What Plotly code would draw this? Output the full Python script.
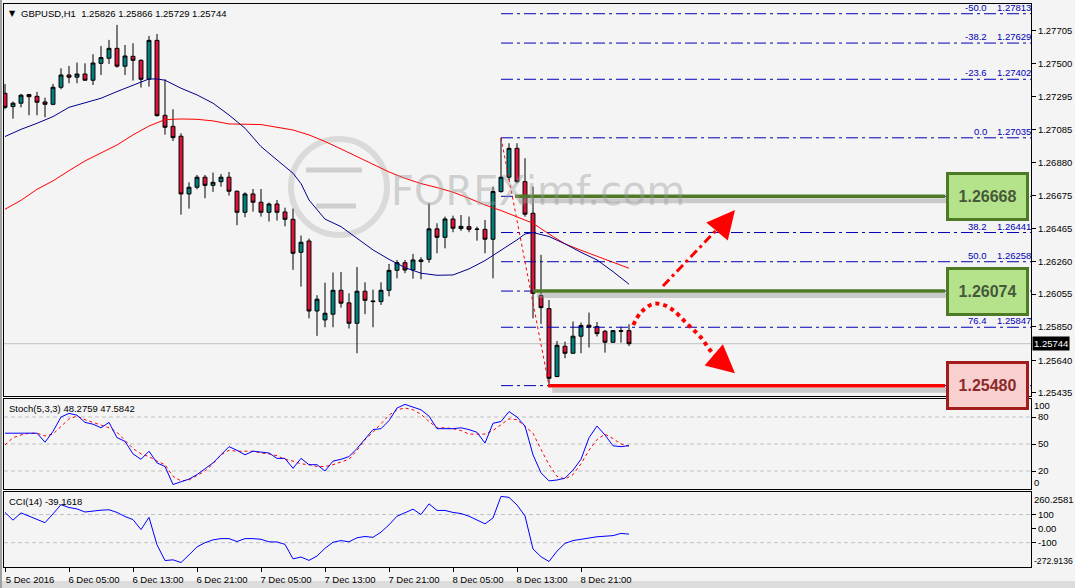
import plotly.graph_objects as go

# ---------------- data ----------------
bar_index = list(range(79))
open_px = [1.27314, 1.27231, 1.27252, 1.27306, 1.27295, 1.27260, 1.27245, 1.27352, 1.27429, 1.27415,
           1.27435, 1.27396, 1.27502, 1.27534, 1.27596, 1.27484, 1.27546, 1.27521, 1.27402, 1.27646,
           1.27176, 1.27107, 1.27045, 1.26683, 1.26725, 1.26788, 1.26737, 1.26760, 1.26788, 1.26700,
           1.26568, 1.26683, 1.26631, 1.26568, 1.26620, 1.26570, 1.26524, 1.26317, 1.26388, 1.25949,
           1.25893, 1.25929, 1.26079, 1.26000, 1.25872, 1.26073, 1.26012, 1.26008, 1.26079, 1.26204,
           1.26252, 1.26206, 1.26269, 1.26273, 1.26464, 1.26411, 1.26526, 1.26466, 1.26478, 1.26463,
           1.26461, 1.26399, 1.26698, 1.26788, 1.26969, 1.26760, 1.26562, 1.26046, 1.25964, 1.25538,
           1.25728, 1.25684, 1.25791, 1.25860, 1.25851, 1.25822, 1.25753, 1.25826, 1.25826]
high_px = [1.27373, 1.27262, 1.27310, 1.27310, 1.27323, 1.27287, 1.27373, 1.27471, 1.27486, 1.27507,
           1.27502, 1.27559, 1.27611, 1.27649, 1.27743, 1.27617, 1.27628, 1.27527, 1.27674, 1.27686,
           1.27402, 1.27214, 1.27063, 1.26756, 1.26802, 1.26802, 1.26817, 1.26808, 1.26821, 1.26704,
           1.26693, 1.26714, 1.26714, 1.26629, 1.26645, 1.26597, 1.26591, 1.26422, 1.26403, 1.26048,
           1.26127, 1.26190, 1.26194, 1.26060, 1.26225, 1.26129, 1.26083, 1.26129, 1.26244, 1.26269,
           1.26269, 1.26307, 1.26286, 1.26625, 1.26499, 1.26541, 1.26547, 1.26551, 1.26541, 1.26478,
           1.26520, 1.26729, 1.27035, 1.27001, 1.27001, 1.26907, 1.26729, 1.26301, 1.26018, 1.25761,
           1.25757, 1.25883, 1.25876, 1.25939, 1.25880, 1.25830, 1.25830, 1.25851, 1.25866]
low_px = [1.27214, 1.27155, 1.27226, 1.27176, 1.27176, 1.27164, 1.27239, 1.27339, 1.27377, 1.27377,
          1.27394, 1.27366, 1.27429, 1.27498, 1.27475, 1.27429, 1.27394, 1.27350, 1.27356, 1.27168,
          1.27055, 1.27015, 1.26553, 1.26591, 1.26712, 1.26656, 1.26696, 1.26729, 1.26673, 1.26487,
          1.26537, 1.26572, 1.26541, 1.26510, 1.26516, 1.26480, 1.26207, 1.26102, 1.25903, 1.25793,
          1.25847, 1.25847, 1.25970, 1.25839, 1.25684, 1.25929, 1.25847, 1.25987, 1.26041, 1.26154,
          1.26186, 1.26152, 1.26148, 1.26252, 1.26311, 1.26342, 1.26443, 1.26451, 1.26443, 1.26390,
          1.26311, 1.26154, 1.26691, 1.26771, 1.26750, 1.26541, 1.25903, 1.25868, 1.25481, 1.25534,
          1.25653, 1.25680, 1.25684, 1.25720, 1.25789, 1.25688, 1.25751, 1.25751, 1.25729]
close_px = [1.27226, 1.27252, 1.27302, 1.27293, 1.27258, 1.27245, 1.27352, 1.27429, 1.27415, 1.27435,
            1.27396, 1.27504, 1.27538, 1.27596, 1.27484, 1.27548, 1.27521, 1.27402, 1.27646, 1.27174,
            1.27101, 1.27036, 1.26683, 1.26725, 1.26788, 1.26737, 1.26756, 1.26788, 1.26700, 1.26568,
            1.26683, 1.26631, 1.26568, 1.26620, 1.26568, 1.26524, 1.26311, 1.26380, 1.25949, 1.26023,
            1.25935, 1.26079, 1.25998, 1.25872, 1.26073, 1.26016, 1.26008, 1.26079, 1.26204, 1.26252,
            1.26206, 1.26269, 1.26259, 1.26464, 1.26411, 1.26526, 1.26468, 1.26480, 1.26461, 1.26461,
            1.26399, 1.26698, 1.26788, 1.26969, 1.26760, 1.26556, 1.26060, 1.25970, 1.25527, 1.25734,
            1.25684, 1.25791, 1.25858, 1.25847, 1.25807, 1.25753, 1.25826, 1.25822, 1.25744]

tick_bars = [0, 8, 16, 24, 32, 40, 48, 56, 64, 72]
tick_labels = ["5 Dec 2016", "6 Dec 05:00", "6 Dec 13:00", "6 Dec 21:00", "7 Dec 05:00",
               "7 Dec 13:00", "7 Dec 21:00", "8 Dec 05:00", "8 Dec 13:00", "8 Dec 21:00"]
price_ticks = [1.27705, 1.27500, 1.27295, 1.27085, 1.26880, 1.26675,
               1.26465, 1.26260, 1.26055, 1.25850, 1.25640, 1.25435]

ma_blue_bars = [0, 2, 4, 6, 8, 10, 12, 14, 16, 18, 19, 20, 22, 24, 26, 28, 30, 32, 34, 36, 37, 38,
                40, 42, 44, 46, 48, 50, 52, 54, 56, 58, 60, 62, 64, 65, 66, 68, 70, 72, 74, 76, 78]
ma_blue = [1.27043, 1.27088, 1.27126, 1.27168, 1.27226, 1.27256, 1.27283, 1.27325, 1.27362, 1.27404,
           1.27404, 1.27396, 1.27346, 1.27304, 1.27252, 1.27178, 1.27095, 1.26980, 1.26896, 1.26813,
           1.26748, 1.26645, 1.26525, 1.26478, 1.26405, 1.26332, 1.26273, 1.26221, 1.26186, 1.26173,
           1.26175, 1.26213, 1.26265, 1.26328, 1.26395, 1.26432, 1.26441, 1.26416, 1.26370, 1.26317,
           1.26269, 1.26196, 1.26117]
ma_red_bars = [0, 2, 4, 6, 8, 10, 12, 14, 16, 18, 20, 22, 24, 26, 28, 30, 32, 34, 36, 38,
               40, 42, 44, 46, 48, 50, 52, 54, 56, 58, 60, 62, 64, 66, 68, 70, 72, 74, 76, 78]
ma_red = [1.26587, 1.26643, 1.26712, 1.26765, 1.26829, 1.26890, 1.26940, 1.26990, 1.27053, 1.27109,
          1.27149, 1.27153, 1.27151, 1.27141, 1.27122, 1.27120, 1.27118, 1.27101, 1.27084, 1.27053,
          1.27012, 1.26965, 1.26917, 1.26865, 1.26821, 1.26781, 1.26748, 1.26723, 1.26694, 1.26656,
          1.26614, 1.26579, 1.26537, 1.26499, 1.26432, 1.26370, 1.26330, 1.26292, 1.26255, 1.26217]

stoch_main = [62, 62, 62, 62, 62, 52, 64, 80, 84, 82, 74, 72, 68, 74, 57, 53, 39, 33, 42, 29,
              25, 5, 8, 11, 16, 22, 29, 38, 47, 43, 38, 42, 41, 40, 34, 34, 23, 34, 27, 27,
              20, 31, 33, 36, 45, 55, 66, 67, 76, 90, 94, 91, 88, 81, 67, 67, 67, 68, 66, 63,
              51, 73, 75, 86, 80, 70, 38, 18, 9, 10, 12, 21, 33, 57, 70, 60, 48, 47, 48.2759]
stoch_signal = [49, 57, 60, 62, 62, 59, 61, 69, 78, 81, 77, 74, 71, 68, 63, 54, 45, 39, 36, 31,
                27, 14, 9, 10, 15, 20, 28, 38, 43, 42, 42, 42, 40, 39, 37, 33, 31, 28, 27, 25,
                25, 27, 30, 33, 43, 55, 63, 73, 82, 88, 90, 88, 83, 75, 68, 68, 67, 65, 61, 61,
                61, 65, 72, 78, 77, 70, 62, 44, 27, 14, 11, 16, 28, 43, 55, 61, 56, 50, 47.5842]
cci_vals = [115, 60, 112, 90, 65, 42, 105, 170, 150, 140, 118, 127, 131, 134, 115, 86, 64, -7, 80, -115,
            -227, -222, -241, -187, -130, -100, -80, -71, -71, -92, -71, -71, -76, -94, -95, -112, -215, -202, -226, -195,
            -140, -97, -85, -94, -65, -56, -62, -25, 27, 88, 114, 138, 100, 176, 129, 129, 115, 107, 88, 58,
            34, 76, 229, 222, 168, 90, -145, -200, -234, -160, -105, -85, -75, -64, -58, -54, -50, -34, -39.1618]

stoch_levels = [80, 50, 20]
stoch_range = [0, 100]
cci_levels = [100, -100]
cci_range = [-272.9136, 260.2581]

fib_ratios = ["-50.0", "-38.2", "-23.6", "0.0", "23.6", "38.2", "50.0", "61.8", "76.4", "100.0"]
fib_prices = [1.27813, 1.27629, 1.27402, 1.27035, 1.26668, 1.26441, 1.26258, 1.26074, 1.25847, 1.25481]
fib_labelled = [True, True, True, True, False, True, True, False, True, False]
fib_start_bar = 62
fib_low_bar = 68

key_levels = [1.26668, 1.26074, 1.25480]
key_text = ["1.26668", "1.26074", "1.25480"]
key_start_bars = [63.75, 66.0, 67.9]
key_end_bar = 117.5
bid_price = 1.25744

up_arrow_bars = [82.25, 90.6]
up_arrow_prices = [1.26106, 1.26545]
up_arrow_tip = (91.25, 1.26582)
curve_bars = [78.54, 79.4, 81.0, 82.3, 83.5, 85.2, 86.9, 88.3, 89.8, 90.6]
curve_prices = [1.25861, 1.25935, 1.25993, 1.25987, 1.25955, 1.25872, 1.25788, 1.25694, 1.25621, 1.25590]
curve_tip = (91.25, 1.25559)

# ---------------- styling ----------------
BG = "#F4F4F4"
TEAL = "#007F7F"
CRIMSON = "#DC143C"
FIB = "#0000B4"
GREEN_LINE = "#4E7A25"
FONT = "Liberation Sans"
W, H = 1075, 588
ML, MR, MT, MB = 4, 44, 4, 21
PW, PH = W - ML - MR, H - MT - MB


def px_x(px):
    return (px - ML) / PW


def px_y(py):
    return (H - MB - py) / PH


fig = go.Figure()

fig.add_trace(go.Candlestick(
    x=bar_index, open=open_px, high=high_px, low=low_px, close=close_px,
    xaxis="x3", yaxis="y",
    increasing=dict(fillcolor=TEAL, line=dict(color="black", width=1)),
    decreasing=dict(fillcolor=CRIMSON, line=dict(color="black", width=1)),
    whiskerwidth=0, hoverinfo="skip"))

fig.add_trace(go.Scatter(x=ma_red_bars, y=ma_red, mode="lines", xaxis="x3", yaxis="y",
                         line=dict(color="#FF0000", width=1)))
fig.add_trace(go.Scatter(x=ma_blue_bars, y=ma_blue, mode="lines", xaxis="x3", yaxis="y",
                         line=dict(color="#00008B", width=1)))

for r, p in zip(fib_ratios, fib_prices):
    fig.add_trace(go.Scatter(x=[fib_start_bar, 128.25], y=[p, p], mode="lines", xaxis="x3", yaxis="y",
                             line=dict(color=FIB, width=1, dash="12px,4px,3px,4px")))
fig.add_trace(go.Scatter(x=[fib_start_bar, fib_low_bar], y=[fib_prices[3], fib_prices[-1]], mode="lines",
                         xaxis="x3", yaxis="y", line=dict(color="#FF0000", width=1, dash="dot")))

for lvl, sb, col in zip(key_levels, key_start_bars, [GREEN_LINE, GREEN_LINE, "#FF0000"]):
    fig.add_trace(go.Scatter(x=[sb + 0.5, key_end_bar + 0.5], y=[lvl - 0.00028, lvl - 0.00028], mode="lines",
                             xaxis="x3", yaxis="y", line=dict(color="rgba(150,150,150,0.45)", width=5)))
    fig.add_trace(go.Scatter(x=[sb, key_end_bar], y=[lvl, lvl], mode="lines", xaxis="x3", yaxis="y",
                             line=dict(color=col, width=3.5)))

fig.add_trace(go.Scatter(x=up_arrow_bars, y=up_arrow_prices, mode="lines", xaxis="x3", yaxis="y",
                         line=dict(color="#FF0000", width=3, dash="9px,4px,3px,4px")))
fig.add_trace(go.Scatter(x=curve_bars, y=curve_prices, mode="lines", xaxis="x3", yaxis="y",
                         line=dict(color="#FF0000", width=4, dash="dot"), line_shape="spline"))

fig.add_trace(go.Scatter(x=bar_index, y=stoch_signal, mode="lines", xaxis="x2", yaxis="y2",
                         line=dict(color="#FF0000", width=1, dash="3px,3px")))
fig.add_trace(go.Scatter(x=bar_index, y=stoch_main, mode="lines", xaxis="x2", yaxis="y2",
                         line=dict(color="#0000FF", width=1)))
fig.add_trace(go.Scatter(x=bar_index, y=cci_vals, mode="lines", xaxis="x", yaxis="y3",
                         line=dict(color="#0000FF", width=1)))

axis_common = dict(showline=True, linecolor="black", linewidth=1, mirror=True, showgrid=False,
                   zeroline=False, automargin=False)
tickfont = dict(family=FONT, size=9.5, color="black")

shapes = []
for v in stoch_levels:
    shapes.append(dict(type="line", xref="paper", yref="y2", x0=0, x1=1, y0=v, y1=v,
                       line=dict(color="#C0C0C0", width=1, dash="4px,3px"), layer="below"))
for v in cci_levels:
    shapes.append(dict(type="line", xref="paper", yref="y3", x0=0, x1=1, y0=v, y1=v,
                       line=dict(color="#C0C0C0", width=1, dash="4px,3px"), layer="below"))
shapes.append(dict(type="line", xref="paper", yref="y", x0=0, x1=1, y0=bid_price, y1=bid_price,
                   line=dict(color="#C0C0C0", width=1), layer="below"))
# watermark logo
shapes.append(dict(type="circle", xref="paper", yref="paper", x0=px_x(291), x1=px_x(387),
                   y0=px_y(235), y1=px_y(139),
                   line=dict(color="rgba(200,200,200,0.6)", width=6), layer="below"))
shapes.append(dict(type="line", xref="paper", yref="paper", x0=px_x(306), x1=px_x(362),
                   y0=px_y(170), y1=px_y(170), line=dict(color="rgba(170,170,170,0.5)", width=5), layer="below"))
shapes.append(dict(type="line", xref="paper", yref="paper", x0=px_x(316), x1=px_x(356),
                   y0=px_y(206), y1=px_y(206), line=dict(color="rgba(170,170,170,0.5)", width=5), layer="below"))
# window frame
shapes.append(dict(type="line", xref="paper", yref="paper", x0=px_x(1), x1=px_x(1), y0=px_y(0), y1=px_y(588),
                   line=dict(color="#A0A0A0", width=2)))
shapes.append(dict(type="rect", xref="paper", yref="paper", x0=px_x(0), x1=px_x(1075),
                   y0=px_y(588), y1=px_y(581), line=dict(width=0), fillcolor="#DCDCDC", layer="below"))

ann = []
ann.append(dict(xref="paper", yref="paper", x=px_x(7), y=px_y(13), text="▼", showarrow=False,
                xanchor="left", yanchor="middle", font=dict(family="DejaVu Sans", size=8, color="black")))
ann.append(dict(xref="paper", yref="paper", x=px_x(19), y=px_y(13),
                text="GBPUSD,H1  1.25826 1.25866 1.25729 1.25744", showarrow=False,
                xanchor="left", yanchor="middle", font=tickfont))
ann.append(dict(xref="paper", yref="paper", x=px_x(7), y=px_y(408), text="Stoch(5,3,3) 48.2759 47.5842",
                showarrow=False, xanchor="left", yanchor="middle", font=tickfont))
ann.append(dict(xref="paper", yref="paper", x=px_x(7), y=px_y(501), text="CCI(14) -39.1618",
                showarrow=False, xanchor="left", yanchor="middle", font=tickfont))
# end-of-range labels of the indicator windows (drawn inside, as in the terminal)
for txt, py, sz in [("100", 405, 9.5), ("0", 482, 9.5), ("260.2581", 499, 9.5), ("-272.9136", 561, 8.6)]:
    ann.append(dict(xref="paper", yref="paper", x=1, xshift=2, y=px_y(py), text=txt, showarrow=False,
                    xanchor="left", yanchor="middle", borderpad=0,
                    font=dict(family=FONT, size=sz, color="black")))
# watermark text
ann.append(dict(xref="paper", yref="paper", x=px_x(538), y=px_y(191), text="FOREXimf.com", showarrow=False,
                xanchor="center", yanchor="middle",
                font=dict(family="DejaVu Sans", size=40, color="rgba(155,155,155,0.42)")))
# fib labels
for r, p, lab in zip(fib_ratios, fib_prices, fib_labelled):
    if lab:
        ann.append(dict(xref="paper", yref="y", x=px_x(988), y=p, text=r, showarrow=False,
                        xanchor="right", yanchor="bottom", borderpad=0,
                        font=dict(family=FONT, size=9.5, color=FIB)))
        ann.append(dict(xref="paper", yref="y", x=px_x(996), y=p, text=f"{p:.5f}", showarrow=False,
                        xanchor="left", yanchor="bottom", borderpad=0,
                        font=dict(family=FONT, size=9.5, color=FIB)))
# key level boxes
box_styles = [("#B4E38C", "#4E7A25", "#46583A"), ("#B4E38C", "#4E7A25", "#46583A"),
              ("#F8D0D0", "#A31C1C", "#8B2A2A")]
for lvl, txt, (fill, border, tcol) in zip(key_levels, key_text, box_styles):
    ann.append(dict(xref="paper", yref="y", x=px_x(987), y=lvl, text=f"<b>{txt}</b>",
                    showarrow=False, xanchor="center", yanchor="middle", width=77, height=43,
                    bgcolor=fill, bordercolor=border, borderwidth=3, borderpad=0,
                    font=dict(family=FONT, size=16, color=tcol)))
# arrow heads
ann.append(dict(xref="x3", yref="y", axref="x3", ayref="y", x=up_arrow_tip[0], y=up_arrow_tip[1],
                ax=up_arrow_bars[1] - 0.3, ay=up_arrow_prices[1] - 0.0002, text="", showarrow=True,
                arrowhead=2, arrowsize=1.4, arrowwidth=4, arrowcolor="#FF0000"))
ann.append(dict(xref="x3", yref="y", axref="x3", ayref="y", x=curve_tip[0], y=curve_tip[1],
                ax=curve_bars[-1] - 0.3, ay=curve_prices[-1] + 0.0001, text="", showarrow=True,
                arrowhead=2, arrowsize=1.4, arrowwidth=4, arrowcolor="#FF0000"))
# current price label
ann.append(dict(xref="paper", yref="y", x=1, y=bid_price, xshift=1, text="1.25744", showarrow=False,
                xanchor="left", yanchor="middle", bgcolor="black", borderpad=1,
                font=dict(family=FONT, size=9.5, color="white")))

fig.update_layout(
    width=W, height=H, margin=dict(l=ML, r=MR, t=MT, b=MB, autoexpand=False),
    paper_bgcolor=BG, plot_bgcolor=BG, showlegend=False, boxgap=0.3,
    font=dict(family=FONT, size=9.5, color="black"),
    xaxis=dict(domain=[0, 1], anchor="y3", range=[-0.125, 128.25], tickmode="array",
               tickvals=tick_bars, ticktext=tick_labels, ticks="outside", ticklen=4, tickcolor="black",
               ticklabelshift=25, tickfont=tickfont, rangeslider=dict(visible=False), **axis_common),
    xaxis2=dict(domain=[0, 1], anchor="y2", matches="x", showticklabels=False,
                rangeslider=dict(visible=False), **axis_common),
    xaxis3=dict(domain=[0, 1], anchor="y", matches="x", showticklabels=False,
                rangeslider=dict(visible=False), **axis_common),
    yaxis=dict(domain=[px_y(396), px_y(4)], anchor="x3", side="right", range=[1.25416, 1.27874],
               tickmode="array", tickvals=price_ticks, ticktext=[f"{p:.5f}" for p in price_ticks],
               ticks="outside", ticklen=4, tickcolor="black", tickfont=tickfont, **axis_common),
    yaxis2=dict(domain=[px_y(489), px_y(399)], anchor="x2", side="right", range=stoch_range,
                tickmode="array", tickvals=stoch_levels, ticktext=[str(v) for v in stoch_levels],
                ticks="outside", ticklen=4, tickcolor="black", tickfont=tickfont, **axis_common),
    yaxis3=dict(domain=[px_y(567), px_y(492)], anchor="x", side="right", range=cci_range,
                tickmode="array", tickvals=[100, 0, -100], ticktext=["100", "0.00", "-100"],
                ticks="outside", ticklen=4, tickcolor="black", tickfont=tickfont, **axis_common),
    shapes=shapes, annotations=ann,
)

fig.write_html("out.html")
